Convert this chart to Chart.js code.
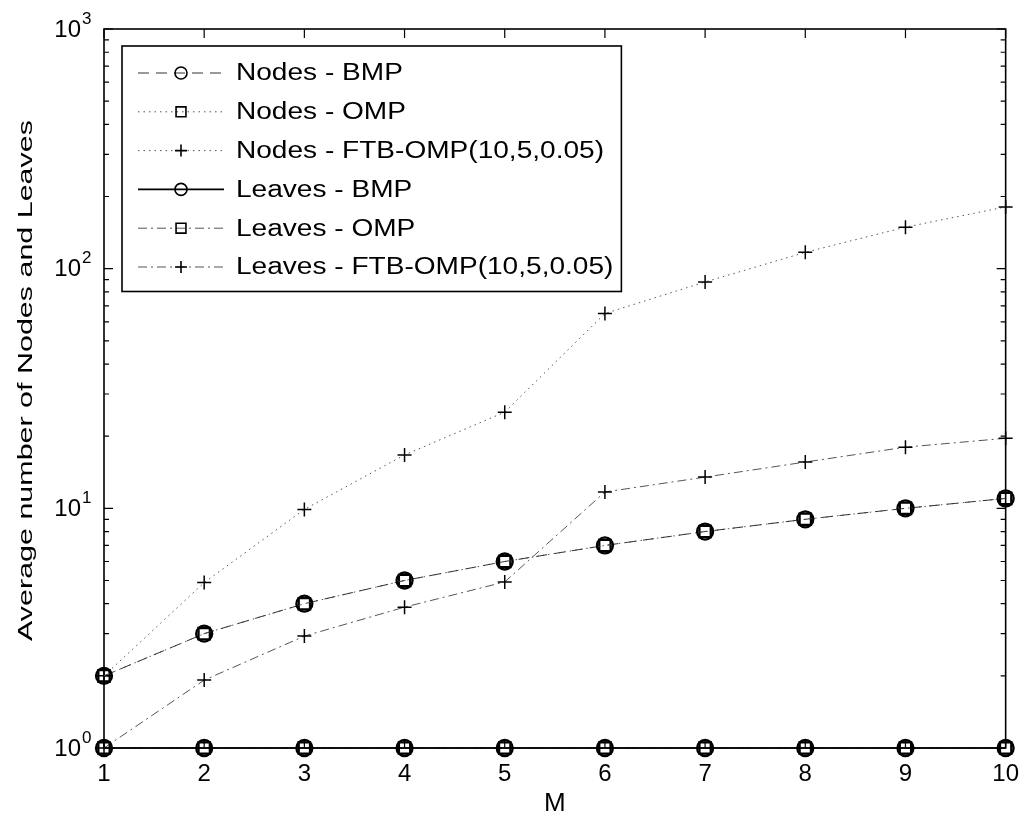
<!DOCTYPE html>
<html>
<head>
<meta charset="utf-8">
<script src="https://cdn.jsdelivr.net/npm/chart.js@4.4.1/dist/chart.umd.min.js"></script>
<style>
  html, body { margin: 0; padding: 0; background: #fff; }
  #wrap { width: 1031px; height: 819px; position: relative; }
</style>
</head>
<body>
<div id="wrap"><canvas id="chart"></canvas></div>
<script>
// data (log y axis)
const mValues = [1, 2, 3, 4, 5, 6, 7, 8, 9, 10];
const nodesBMP = [2, 3, 4, 5, 6, 7, 8, 9, 10, 11];
const nodesOMP = [2, 3, 4, 5, 6, 7, 8, 9, 10, 11];
const nodesFTB = [2, 4.9, 9.9, 16.7, 25.2, 65, 88, 117, 149, 181];
const leavesBMP = [1, 1, 1, 1, 1, 1, 1, 1, 1, 1];
const leavesOMP = [1, 1, 1, 1, 1, 1, 1, 1, 1, 1];
const leavesFTB = [1, 1.92, 2.93, 3.87, 4.93, 11.7, 13.5, 15.6, 18, 19.6];

const seriesLabels = [
  "Nodes - BMP",
  "Nodes - OMP",
  "Nodes - FTB-OMP(10,5,0.05)",
  "Leaves - BMP",
  "Leaves - OMP",
  "Leaves - FTB-OMP(10,5,0.05)"
];
const xTickValues = mValues;
const yTickValues = [1, 10, 100, 1000];
const yTickExponents = ["0", "1", "2", "3"];
const xTitle = "M";
const yTitle = "Average number of Nodes and Leaves";

const FONT = '"Liberation Sans", Arial, Helvetica, sans-serif';

const DASH = [11, 7];
const DOT = [1.5, 4];
const DASHDOT = [9, 4, 2, 4];

function pts(arr) {
  return mValues.map((m, i) => ({ x: m, y: arr[i] }));
}

function series(label, arr, dash, style, lineWidth, lineColor) {
  return {
    label: label,
    data: pts(arr),
    borderColor: lineColor,
    borderWidth: lineWidth,
    borderDash: dash,
    pointStyle: style,
    pointRadius: style === "cross" ? 7 : 8,
    pointBorderWidth: style === "cross" ? 1.5 : 2.3,
    pointBorderColor: "#000",
    pointBackgroundColor: "rgba(0,0,0,0)",
    fill: false,
    tension: 0,
    clip: false
  };
}

const datasets = [
  series(seriesLabels[0], nodesBMP, DASH, "circle", 1, "#333"),
  series(seriesLabels[1], nodesOMP, DOT, "rect", 1, "#555"),
  series(seriesLabels[2], nodesFTB, DOT, "cross", 1, "#555"),
  series(seriesLabels[3], leavesBMP, [], "circle", 1.6, "#000"),
  series(seriesLabels[4], leavesOMP, DASHDOT, "rect", 1, "#555"),
  series(seriesLabels[5], leavesFTB, DASHDOT, "cross", 1, "#555")
];

// box + inward ticks like the matlab axes
const frameTicks = {
  id: "frameTicks",
  beforeDatasetsDraw(chart) {
    const { ctx, chartArea: a, scales } = chart;
    const x = scales.x, y = scales.y;
    ctx.save();
    ctx.strokeStyle = "#000";
    ctx.lineWidth = 1.2;
    ctx.beginPath();
    xTickValues.forEach(v => {
      const px = x.getPixelForValue(v);
      ctx.moveTo(px, a.bottom); ctx.lineTo(px, a.bottom - 9);
      ctx.moveTo(px, a.top); ctx.lineTo(px, a.top + 9);
    });
    yTickValues.forEach(v => {
      const py = y.getPixelForValue(v);
      ctx.moveTo(a.left, py); ctx.lineTo(a.left + 9, py);
      ctx.moveTo(a.right, py); ctx.lineTo(a.right - 9, py);
    });
    [1, 10, 100].forEach(d => {
      for (let k = 2; k <= 9; k++) {
        const py = y.getPixelForValue(d * k);
        ctx.moveTo(a.left, py); ctx.lineTo(a.left + 5, py);
        ctx.moveTo(a.right, py); ctx.lineTo(a.right - 5, py);
      }
    });
    ctx.stroke();
    ctx.lineWidth = 1.6;
    ctx.strokeRect(a.left, a.top, a.right - a.left, a.bottom - a.top);
    ctx.restore();
  },
  afterDraw(chart) {
    const { ctx, chartArea: a, scales } = chart;
    ctx.save();
    ctx.fillStyle = "#000";
    // y tick labels 10^n with a real superscript
    yTickValues.forEach((v, i) => {
      const py = scales.y.getPixelForValue(v);
      ctx.textBaseline = "middle";
      ctx.textAlign = "right";
      ctx.font = "24px " + FONT;
      ctx.fillText("10", 81, py + 1);
      ctx.textAlign = "left";
      ctx.font = "17px " + FONT;
      ctx.fillText(yTickExponents[i], 82, py - 10);
    });
    // y title, drawn by hand so it can be stretched like the original font
    ctx.font = "21px " + FONT;
    ctx.textAlign = "center";
    ctx.textBaseline = "middle";
    ctx.translate(26, (a.top + a.bottom) / 2 - 8);
    ctx.rotate(-Math.PI / 2);
    ctx.scale(1.45, 1);
    ctx.fillText(yTitle, 0, 0);
    ctx.restore();
  }
};

// legend box in the upper left of the axes
const boxLegend = {
  id: "boxLegend",
  afterDatasetsDraw(chart) {
    const { ctx, chartArea: a } = chart;
    const sx = 1.22;
    const rowH = 38.8;
    const left = a.left + 18, top = a.top + 17;
    ctx.save();
    ctx.font = "23px " + FONT;
    let maxW = 0;
    chart.data.datasets.forEach(ds => { maxW = Math.max(maxW, ctx.measureText(ds.label).width * sx); });
    const w = 114 + maxW + 8;
    const h = 27 + rowH * 5 + 24.5;
    ctx.fillStyle = "#fff";
    ctx.fillRect(left, top, w, h);
    ctx.strokeStyle = "#000";
    ctx.lineWidth = 1.6;
    ctx.strokeRect(left, top, w, h);

    chart.data.datasets.forEach((ds, i) => {
      const cy = top + 27 + i * rowH;
      ctx.strokeStyle = ds.borderColor;
      ctx.lineWidth = ds.borderWidth;
      ctx.setLineDash(ds.borderDash);
      ctx.beginPath();
      ctx.moveTo(left + 16, cy);
      ctx.lineTo(left + 102, cy);
      ctx.stroke();
      ctx.setLineDash([]);
      ctx.strokeStyle = "#000";
      ctx.fillStyle = "rgba(0,0,0,0)";
      ctx.lineWidth = 1.6;
      Chart.helpers.drawPoint(ctx, {
        pointStyle: ds.pointStyle,
        radius: ds.pointStyle === "rect" ? 7 : 6,
        rotation: 0,
        borderWidth: 1.6
      }, left + 59, cy);

      ctx.fillStyle = "#000";
      ctx.textAlign = "left";
      ctx.textBaseline = "middle";
      ctx.save();
      ctx.translate(left + 114, cy + 1);
      ctx.scale(sx, 1);
      ctx.fillText(ds.label, 0, 0);
      ctx.restore();
    });
    ctx.restore();
  }
};

new Chart(document.getElementById("chart"), {
  type: "line",
  data: { datasets: datasets },
  options: {
    responsive: true,
    maintainAspectRatio: false,
    animation: false,
    layout: { padding: { top: 29, right: 18, left: 0, bottom: 0 } },
    plugins: {
      legend: { display: false },
      tooltip: { enabled: false }
    },
    scales: {
      x: {
        type: "linear",
        min: 1,
        max: 10,
        afterBuildTicks: s => { s.ticks = xTickValues.map(v => ({ value: v })); },
        afterFit: s => { s.height = 71; },
        grid: { display: false, drawTicks: false },
        border: { display: false },
        ticks: {
          color: "#000",
          font: { family: FONT, size: 24 },
          padding: 12,
          maxRotation: 0,
          autoSkip: false
        },
        title: {
          display: true,
          text: xTitle,
          color: "#000",
          font: { family: FONT, size: 26 },
          padding: { top: 0, bottom: 0 }
        }
      },
      y: {
        type: "logarithmic",
        min: 1,
        max: 1000,
        afterBuildTicks: s => { s.ticks = yTickValues.map(v => ({ value: v })); },
        afterFit: s => { s.width = 104; },
        grid: { display: false, drawTicks: false },
        border: { display: false },
        ticks: { display: false }
      }
    }
  },
  plugins: [frameTicks, boxLegend]
});
</script>
</body>
</html>
